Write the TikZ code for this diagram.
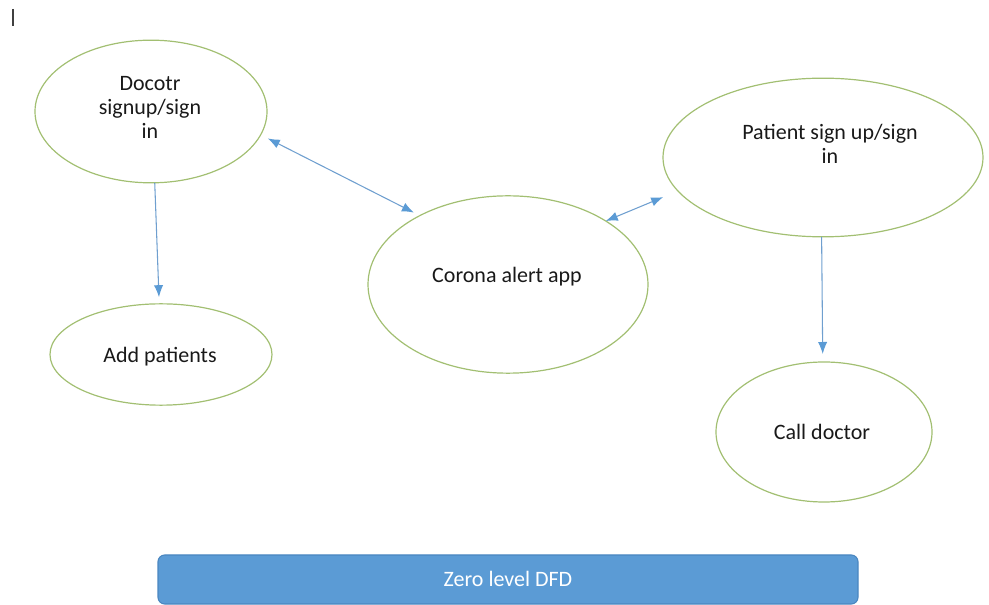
\documentclass[tikz,border=0pt]{standalone}
\usepackage{fontspec}
\setmainfont{Carlito}
\usetikzlibrary{shapes.geometric,arrows.meta}
\definecolor{procline}{HTML}{A2BF72}
\definecolor{flowblue}{HTML}{5B9BD5}
\definecolor{flowline}{HTML}{6F9FCF}
\definecolor{bannerfill}{HTML}{5B9BD5}
\definecolor{bannerline}{HTML}{4A86C0}
\tikzset{
  process/.style={ellipse, draw=procline, line width=0.9pt, inner sep=0pt, outer sep=0pt},
  label text/.style={font=\fontsize{16.5}{18}\selectfont, text=black!90, align=center, inner sep=0pt},
  flowtip/.style={Latex[length=9pt,width=7pt,color=flowblue]},
  flow/.style={draw=flowline, line width=0.8pt, -{Latex[length=9pt,width=7pt,color=flowblue]}},
  bothflow/.style={draw=flowline, line width=0.8pt, {Latex[length=9pt,width=7pt,color=flowblue]}-{Latex[length=9pt,width=7pt,color=flowblue]}},
}
\begin{document}
\begin{tikzpicture}[x=0.75pt,y=-0.75pt]
\useasboundingbox (0,0) rectangle (989,605);

% cursor mark in the corner
\draw[black!75, line width=1.4pt] (13,9) -- (13,26);

% processes
\node[process, minimum width=174pt, minimum height=107pt] (doc) at (151,111.5) {};
\node[process, minimum width=166.5pt, minimum height=76pt] (add) at (161,354.5) {};
\node[process, minimum width=210pt, minimum height=133pt] (app) at (508,284.5) {};
\node[process, minimum width=240pt, minimum height=119pt] (pat) at (823,157.5) {};
\node[process, minimum width=162pt, minimum height=105pt] (call) at (824,432) {};

% process labels
\node[label text] (doctxt) at (150,107) {Docotr\\signup/sign\\in};
\node[label text] (addtxt) at (160,357) {Add patients};
\node[label text] (apptxt) at (507,277) {Corona alert app};
\node[label text] (pattxt) at (830,144) {Patient sign up/sign\\in};
\node[label text] (calltxt) at (822,432) {Call doctor};

% data flows
\draw[bothflow, shorten <=6pt, shorten >=5pt] (doc.-12) -- (app.142);
\draw[bothflow, shorten >=12pt] (app.33) -- (pat.193);
\draw[flow, shorten >=5pt] (doc.-87) -- (add.92);
\draw[flow, shorten >=6pt] (pat.-91) -- (call.91);

% title banner
\node[draw=bannerline, fill=bannerfill, rounded corners=5pt, line width=0.8pt,
      minimum width=525pt, minimum height=36.75pt, inner sep=0pt,
      text=white, font=\fontsize{16.5}{18}\selectfont] (banner) at (508,579.5) {\raisebox{1.5pt}{Zero level DFD}};
\end{tikzpicture}
\end{document}
